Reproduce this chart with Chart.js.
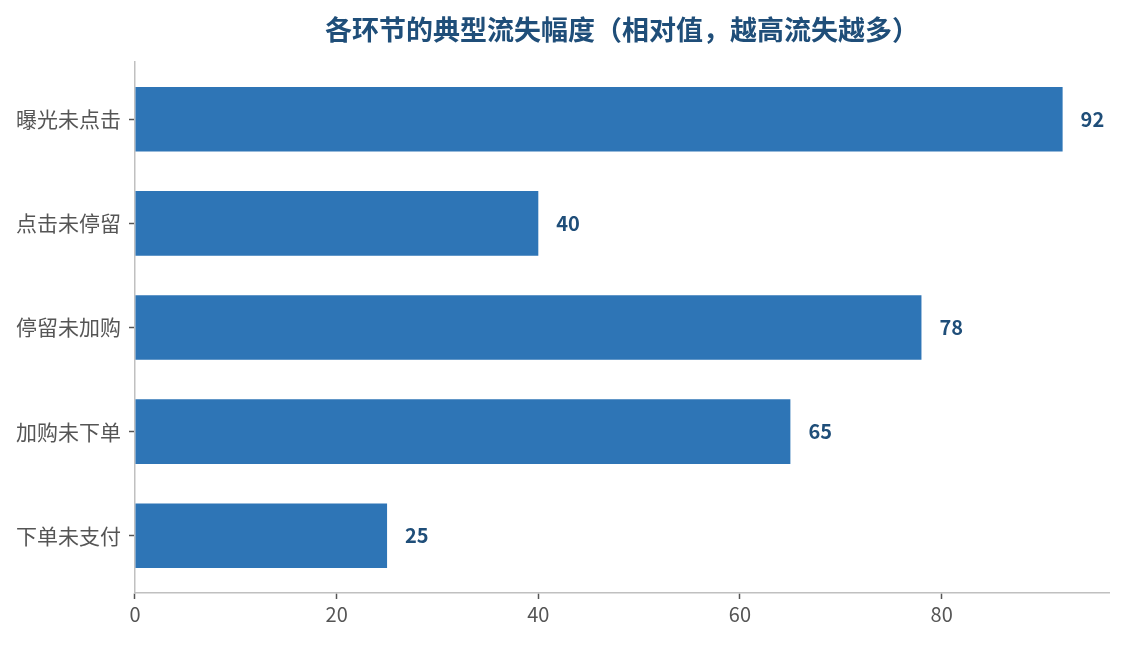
<!DOCTYPE html>
<html>
<head>
<meta charset="utf-8">
<script src="https://cdn.jsdelivr.net/npm/chart.js@4.4.1/dist/chart.umd.min.js"></script>
<style>
  body { margin: 0; background: #fff; }
  #wrap { width: 1124px; height: 645px; }
</style>
</head>
<body>
<div id="wrap"><canvas id="lossChart" width="1124" height="645"></canvas></div>
<script>
const titleText = '各环节的典型流失幅度（相对值，越高流失越多）';
const stages = ['曝光未点击', '点击未停留', '停留未加购', '加购未下单', '下单未支付'];
const lossValues = [92, 40, 78, 65, 25];
const xTicks = [0, 20, 40, 60, 80];

const fontFamily = '"Noto Sans CJK SC", "Noto Sans", sans-serif';

// title centred over the plot area
const plotTitle = {
    id: 'plotTitle',
    afterDraw(chart) {
        const { ctx, chartArea } = chart;
        ctx.save();
        ctx.font = 'bold 27px ' + fontFamily;
        ctx.fillStyle = '#1f4e79';
        ctx.textAlign = 'center';
        ctx.textBaseline = 'middle';
        ctx.fillText(titleText, (chartArea.left + chartArea.right) / 2, 30);
        ctx.restore();
    }
};

// value labels at bar ends
const valueLabels = {
    id: 'valueLabels',
    afterDatasetsDraw(chart) {
        const { ctx } = chart;
        const meta = chart.getDatasetMeta(0);
        ctx.save();
        ctx.font = 'bold 20px ' + fontFamily;
        ctx.fillStyle = '#1f4e79';
        ctx.textAlign = 'left';
        ctx.textBaseline = 'middle';
        meta.data.forEach((bar, i) => {
            ctx.fillText(String(lossValues[i]), bar.x + 18, bar.y);
        });
        ctx.restore();
    }
};

new Chart(document.getElementById('lossChart'), {
    type: 'bar',
    data: {
        datasets: [{
            data: lossValues.map((v, i) => ({ x: v, y: i })),
            backgroundColor: '#2e75b6',
            borderWidth: 0,
            barPercentage: 0.62,
            categoryPercentage: 1.0
        }]
    },
    options: {
        indexAxis: 'y',
        responsive: false,
        animation: false,
        layout: { padding: { top: 62, right: 15, left: 8, bottom: 16 } },
        plugins: {
            legend: { display: false },
            title: { display: false },
            tooltip: { enabled: false }
        },
        scales: {
            x: {
                type: 'linear',
                min: 0,
                max: 96.6,
                afterBuildTicks: axis => {
                    axis.ticks = xTicks.map(v => ({ value: v }));
                },
                ticks: {
                    color: '#555',
                    font: { family: fontFamily, size: 20 },
                    padding: 3
                },
                grid: { display: true, drawOnChartArea: false, tickLength: 6, tickColor: '#555', tickWidth: 1.5 },
                border: { color: '#c0c0c0', width: 1.5 }
            },
            y: {
                type: 'linear',
                reverse: true,
                offset: false,
                min: -0.55,
                max: stages.length - 0.45,
                afterBuildTicks: axis => {
                    axis.ticks = stages.map((s, i) => ({ value: i }));
                },
                ticks: {
                    color: '#555',
                    font: { family: fontFamily, size: 21 },
                    padding: 8,
                    callback: v => stages[v]
                },
                grid: { display: true, offset: false, drawOnChartArea: false, tickLength: 6, tickColor: '#555', tickWidth: 1.5 },
                border: { color: '#c0c0c0', width: 1.5 }
            }
        }
    },
    plugins: [plotTitle, valueLabels]
});
</script>
</body>
</html>
